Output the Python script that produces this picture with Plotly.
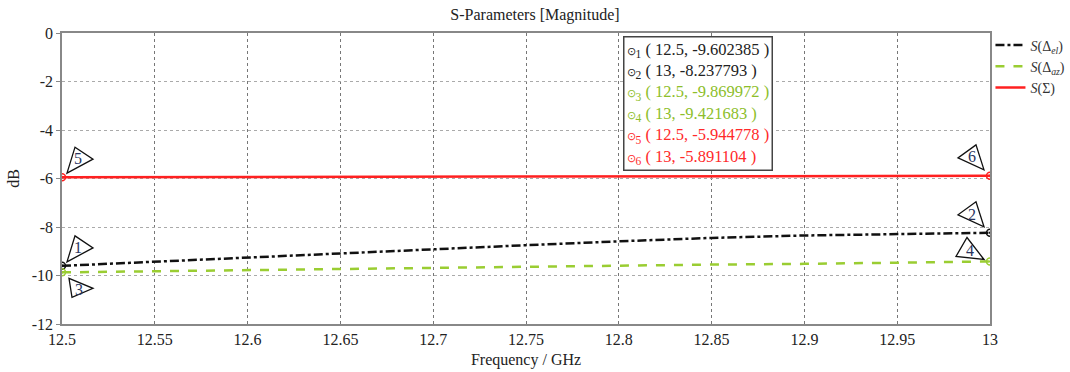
import plotly.graph_objects as go

freq = [12.5, 12.55, 12.6, 12.65, 12.7, 12.75, 12.8, 12.85, 12.9, 12.95, 13.0]
s_el = [-9.602385, -9.43, -9.24, -9.08, -8.91, -8.75, -8.59, -8.45, -8.35, -8.28, -8.237793]
s_az = [-9.869972, -9.82, -9.77, -9.73, -9.69, -9.65, -9.59, -9.55, -9.52, -9.47, -9.421683]
s_sum = [-5.944778, -5.940, -5.937, -5.934, -5.928, -5.922, -5.917, -5.911, -5.905, -5.898, -5.891104]

series_names = ["<i>S</i>(Δ<sub><i>el</i></sub>)", "<i>S</i>(Δ<sub><i>az</i></sub>)", "<i>S</i>(Σ)"]
series_colors = ["#111111", "#9ACD32", "#FF2020"]
series_dash = ["dashdot", "dash", "solid"]
marker_ids = [["1", "2"], ["3", "4"], ["5", "6"]]

x_ticks = [12.5, 12.55, 12.6, 12.65, 12.7, 12.75, 12.8, 12.85, 12.9, 12.95, 13.0]
x_tick_text = ["12.5", "12.55", "12.6", "12.65", "12.7", "12.75", "12.8", "12.85", "12.9", "12.95", "13"]
y_ticks = [0, -2, -4, -6, -8, -10, -12]
y_tick_text = ["0", "-2", "-4", "-6", "-8", "-10", "-12"]

FONT = "Liberation Serif"

fig = go.Figure()
all_series = [s_el, s_az, s_sum]
for ys, name, col, dash in zip(all_series, series_names, series_colors, series_dash):
    fig.add_trace(go.Scatter(x=freq, y=ys, mode="lines", name=name,
                             line=dict(color=col, width=2.5, dash=dash)))
# endpoint markers
for ys, col in zip(all_series, series_colors):
    fig.add_trace(go.Scatter(x=[freq[0], freq[-1]], y=[ys[0], ys[-1]], mode="markers",
                             showlegend=False, hoverinfo="skip",
                             marker=dict(symbol="circle-open-dot", size=7, color=col,
                                         line=dict(width=1.5, color=col))))

# triangle callouts (pixel geometry, anchored at the data markers)
tri_left_up = "M 5 4 L 13 30 L 31 18 Z"       # above-right of point
tri_left_down = "M 7 -6 L 10 -25 L 31 -16 Z"  # below-right of point
tri_right_up = "M -6 6 L -14 31 L -32 18 Z"   # above-left of point
tri_right_low = "M -6 2 L -23 24 L -34 5 Z"   # above-left, flatter

callouts = [
    (freq[0], s_el[0], tri_left_up, "1", 16, 18),
    (freq[0], s_az[0], tri_left_down, "3", 17, -17),
    (freq[0], s_sum[0], tri_left_up, "5", 16, 19),
    (freq[-1], s_el[-1], tri_right_up, "2", -18, 18),
    (freq[-1], s_az[-1], tri_right_low, "4", -20, 11),
    (freq[-1], s_sum[-1], tri_right_up, "6", -18, 19),
]
for xa, ya, path, label, dx, dy in callouts:
    fig.add_shape(type="path", xref="x", yref="y", xsizemode="pixel", ysizemode="pixel",
                  xanchor=xa, yanchor=ya, path=path,
                  line=dict(color="#111111", width=1.3), fillcolor="white", layer="above")
    fig.add_annotation(x=xa, y=ya, xref="x", yref="y", text=label, showarrow=False,
                       xshift=dx, yshift=dy, font=dict(family=FONT, size=16, color="#2a3560"))

# marker value table
label_colors = ["#222222", "#222222", "#8DBE2A", "#8DBE2A", "#FF2A2A", "#FF2A2A"]
rows = []
pts = []
for ys, ids in zip(all_series, marker_ids):
    pts.append((ids[0], freq[0], ys[0]))
    pts.append((ids[1], freq[-1], ys[-1]))
for (mid, fx, fy), c in zip(pts, label_colors):
    fx_s = ("%g" % fx)
    rows.append("<span style='color:%s'><span style='font-size:11px'>⊙</span><sub>%s</sub> ( %s, %.6f )</span>"
                % (c, mid, fx_s, fy))
fig.add_annotation(xref="paper", yref="paper", x=0.604, y=0.99, xanchor="left", yanchor="top",
                   text="<br>".join(rows), showarrow=False, align="left",
                   font=dict(family=FONT, size=16.5, color="#222"),
                   bordercolor="#444", borderwidth=1.5, bgcolor="white", borderpad=2)

fig.update_layout(
    width=1070, height=372,
    margin=dict(l=62, r=80, t=33, b=48, autoexpand=False),
    paper_bgcolor="white", plot_bgcolor="white",
    title=dict(text="S-Parameters [Magnitude]", x=0.5, xanchor="center", y=0.962, yanchor="middle",
               font=dict(family=FONT, size=16, color="#222")),
    font=dict(family=FONT, size=15, color="#222"),
    showlegend=True,
    legend=dict(x=1.0005, xanchor="left", y=1.012, yanchor="top", bgcolor="rgba(0,0,0,0)",
                font=dict(family=FONT, size=14, color="#333"), tracegroupgap=0,
                itemwidth=30),
)
fig.update_xaxes(range=[12.5, 13.0], tickvals=x_ticks, ticktext=x_tick_text,
                 showgrid=True, gridcolor="#777", griddash="dot", gridwidth=1,
                 showline=True, linecolor="#888", linewidth=1.5, mirror=True,
                 ticks="", zeroline=False,
                 title=dict(text="Frequency / GHz", font=dict(family=FONT, size=16), standoff=7),
                 tickfont=dict(family=FONT, size=16))
fig.update_yaxes(range=[-12, 0], tickvals=y_ticks, ticktext=y_tick_text,
                 showgrid=True, gridcolor="#aaa", griddash="dot", gridwidth=1,
                 showline=True, linecolor="#888", linewidth=1.5, mirror=True,
                 ticks="outside", ticklen=4, tickcolor="#888", zeroline=False,
                 title=dict(text="dB", font=dict(family=FONT, size=16), standoff=8),
                 tickfont=dict(family=FONT, size=16))

fig.write_html("out.html", config={"displayModeBar": False},
               post_script="document.body.style.margin='0px';document.body.style.padding='0px';")
